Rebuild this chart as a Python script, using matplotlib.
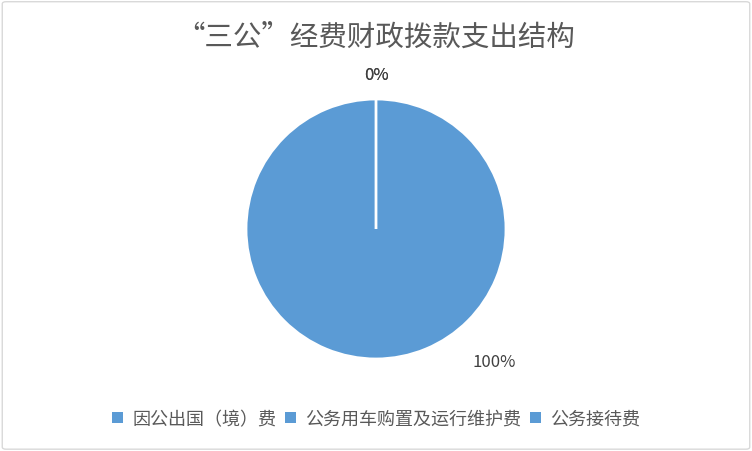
import numpy as np
import matplotlib
matplotlib.use('Agg')
import matplotlib.pyplot as plt
from matplotlib.patches import FancyBboxPatch, Patch

plt.rcParams['font.family'] = ['Noto Sans CJK SC', 'DejaVu Sans']

title = '“三公”经费财政拨款支出结构'
categories = ['因公出国（境）费', '公务用车购置及运行维护费', '公务接待费']
values = [0, 100, 0]
pct_labels = ['0%', '100%', '0%']

blue = '#5B9BD5'

fig = plt.figure(figsize=(7.52, 4.52), dpi=100)

# thin gray frame around the chart area
fig.patches.append(FancyBboxPatch((0.003, 0.004), 0.994, 0.99, boxstyle='round,pad=0,rounding_size=0.005',
                                  transform=fig.transFigure, facecolor='none', edgecolor='#D9D9D9', lw=1,
                                  zorder=-1))

# pie: center (376,230) px, radius 130 px
r_px = 130
ax = fig.add_axes([(376 - r_px) / 752, (452 - 230 - r_px) / 452, 2 * r_px / 752, 2 * r_px / 452])
wedges, _ = ax.pie(values, colors=[blue] * 3, startangle=90, counterclock=False,
                   wedgeprops=dict(edgecolor='white', linewidth=2), radius=1)
ax.set_xlim(-1, 1)
ax.set_ylim(-1, 1)
ax.set_aspect('auto')
ax.axis('off')

# data labels, placed the way the reference shows them
label_pos = [(0, 1.19), (0.91, -1.02), (0, 1.19)]
for lab, (x, y) in zip(pct_labels, label_pos):
    ax.text(x, y, lab, ha='center', va='center', fontsize=12, color='#404040', clip_on=False)

fig.text(0.5, 1 - 38 / 452, title, ha='center', va='center', fontsize=20.5, color='#595959')

handles = [Patch(facecolor=blue, edgecolor='none') for _ in categories]
fig.legend(handles, categories, loc='center', bbox_to_anchor=(0.5, 1 - 420 / 452), ncol=3,
           frameon=False, fontsize=13, labelcolor='#595959', handlelength=0.6, handleheight=0.6,
           handletextpad=0.5, columnspacing=0.5)

fig.savefig('out.png', dpi=100)
